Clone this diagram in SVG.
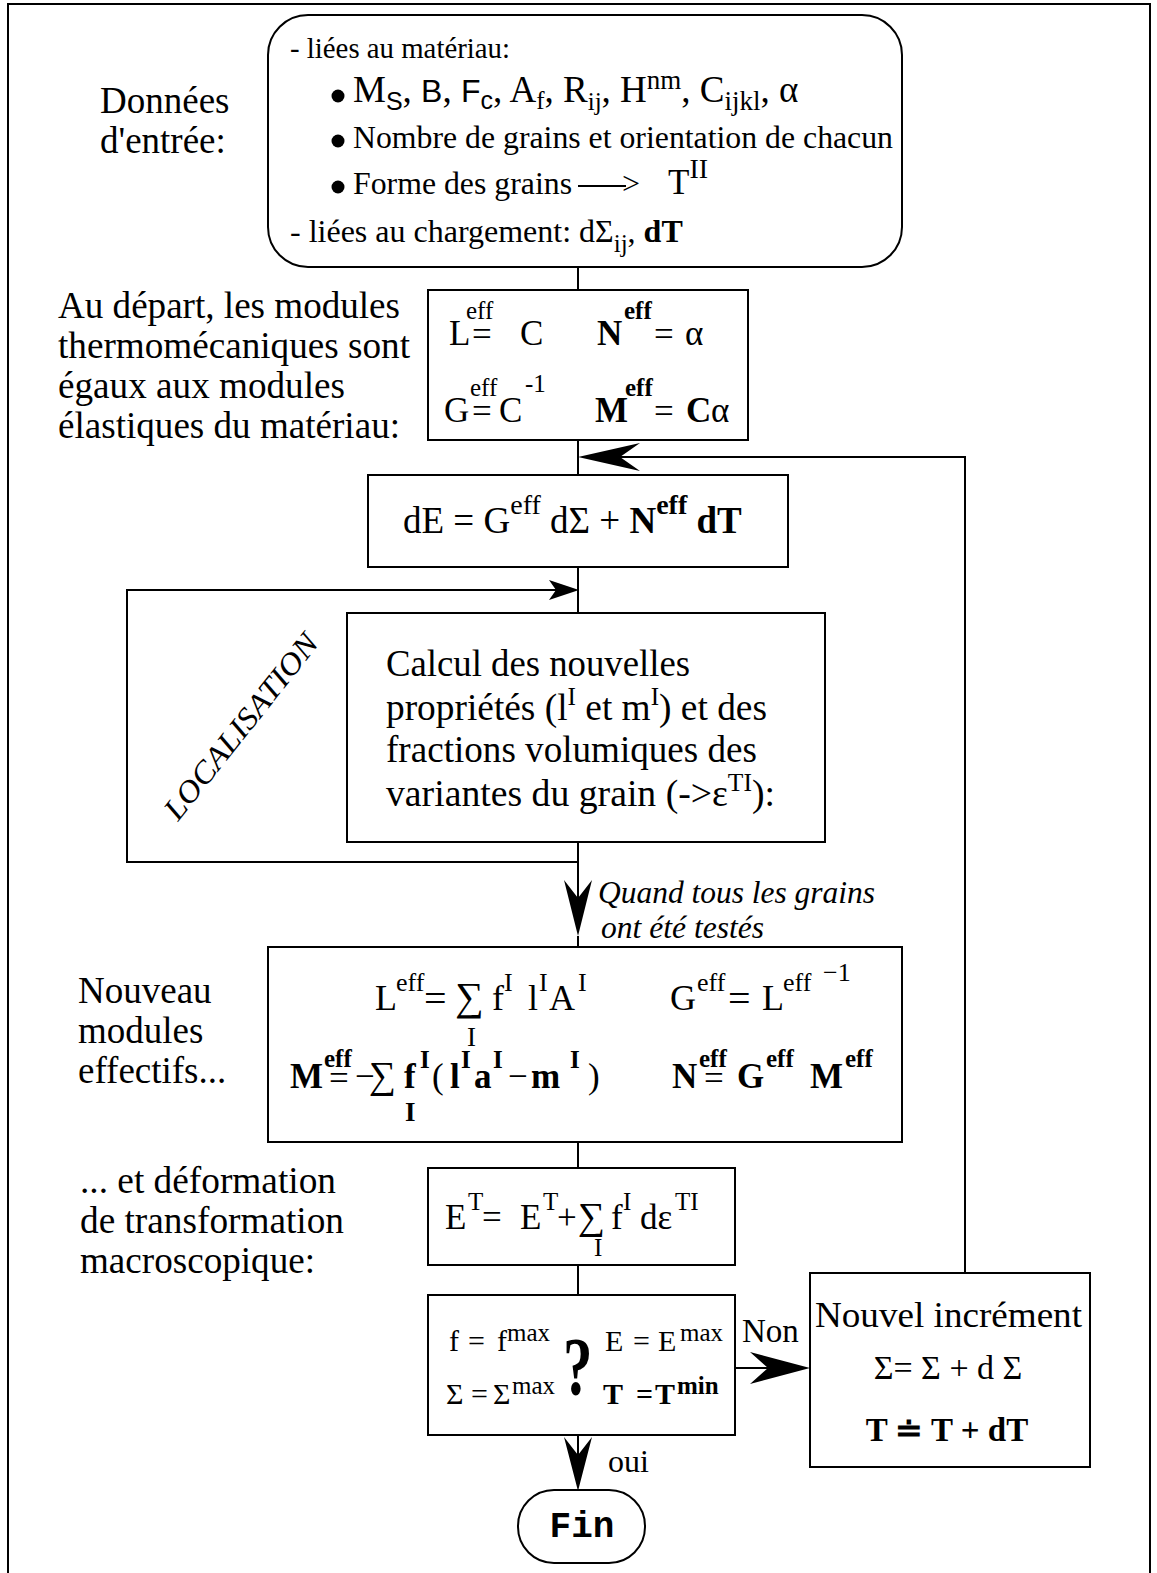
<svg xmlns="http://www.w3.org/2000/svg" width="1157" height="1573" viewBox="0 0 1157 1573">
<style>
.box{fill:#fff;stroke:#000;stroke-width:2}
.ln{fill:none;stroke:#000;stroke-width:2}
.ah{fill:#000;stroke:none}
text{font-family:"Liberation Serif","Times New Roman",serif;fill:#000}
.lbl{font-size:37px}
.sans{font-family:"Liberation Sans",Arial,sans-serif}
.mono{font-family:"Liberation Mono","Courier New",monospace;font-weight:bold}
.b{font-weight:bold}
.n{font-weight:normal}
.it{font-style:italic}
</style>
<rect width="1157" height="1573" fill="#fff"/>
<path class="ln" d="M8,1573 V4 H1150 V1573"/>

<g id="connectors">
<line class="ln" x1="578" y1="266" x2="578" y2="290"/>
<line class="ln" x1="578" y1="440" x2="578" y2="475"/>
<polyline class="ln" points="965,1273 965,457 590,457"/>
<polygon class="ah" points="578,457 640,443 620,457 640,471"/>
<line class="ln" x1="578" y1="567" x2="578" y2="613"/>
<polyline class="ln" points="578,842 578,862 127,862 127,590 570,590"/>
<polygon class="ah" points="579,590 549,580 556,590 549,600"/>
<line class="ln" x1="578" y1="862" x2="578" y2="925"/>
<polygon class="ah" points="578,936 564,880 578,898 592,880"/>
<line class="ln" x1="578" y1="936" x2="578" y2="947"/>
<line class="ln" x1="578" y1="1142" x2="578" y2="1168"/>
<line class="ln" x1="578" y1="1265" x2="578" y2="1295"/>
<line class="ln" x1="735" y1="1368" x2="800" y2="1368"/>
<polygon class="ah" points="810,1368 750,1352 768,1368 750,1384"/>
<line class="ln" x1="578" y1="1435" x2="578" y2="1480"/>
<polygon class="ah" points="578,1491 564,1437 578,1455 592,1437"/>
<text x="742" y="1342" font-size="33">Non</text>
<text x="608" y="1472" font-size="32">oui</text>
<text class="it" x="598" y="903" font-size="32" textLength="277" lengthAdjust="spacingAndGlyphs">Quand tous les grains</text>
<text class="it" x="601" y="938" font-size="32" textLength="163" lengthAdjust="spacingAndGlyphs">ont été testés</text>
<text class="it" font-size="31" transform="translate(178,822) rotate(-51.5)" textLength="228" lengthAdjust="spacingAndGlyphs">LOCALISATION</text>
</g>

<g id="labels">
<text class="lbl" x="100" y="113">Données</text>
<text class="lbl" x="100" y="153">d'entrée:</text>
<text class="lbl" x="58" y="318" textLength="342" lengthAdjust="spacingAndGlyphs">Au départ, les modules</text>
<text class="lbl" x="58" y="358" textLength="352" lengthAdjust="spacingAndGlyphs">thermomécaniques sont</text>
<text class="lbl" x="58" y="398" textLength="287" lengthAdjust="spacingAndGlyphs">égaux aux modules</text>
<text class="lbl" x="58" y="438" textLength="342" lengthAdjust="spacingAndGlyphs">élastiques du matériau:</text>
<text class="lbl" x="78" y="1003">Nouveau</text>
<text class="lbl" x="78" y="1043">modules</text>
<text class="lbl" x="78" y="1083">effectifs...</text>
<text class="lbl" x="80" y="1193" textLength="256" lengthAdjust="spacingAndGlyphs">... et déformation</text>
<text class="lbl" x="80" y="1233" textLength="264" lengthAdjust="spacingAndGlyphs">de transformation</text>
<text class="lbl" x="80" y="1273" textLength="235" lengthAdjust="spacingAndGlyphs">macroscopique:</text>
</g>

<g id="node-input">
<rect class="box" x="268" y="15" width="634" height="252" rx="40"/>
<text x="290" y="58" font-size="29" textLength="220" lengthAdjust="spacingAndGlyphs">- liées au matériau:</text>
<circle cx="338" cy="96" r="6.5"/>
<text x="353" y="102" font-size="37">M<tspan class="sans" font-size="25" dy="8">S</tspan><tspan dy="-8">, </tspan><tspan class="sans" font-size="32">B</tspan>, <tspan class="sans" font-size="32">F</tspan><tspan class="sans" font-size="25" dy="7">c</tspan><tspan dy="-7">, A</tspan><tspan font-size="25" dy="7">f</tspan><tspan dy="-7">, R</tspan><tspan font-size="25" dy="8">ij</tspan><tspan dy="-8">, H</tspan><tspan font-size="27" dy="-13">nm</tspan><tspan dy="13">, C</tspan><tspan font-size="27" dy="8">ijkl</tspan><tspan dy="-8">, α</tspan></text>
<circle cx="338" cy="141" r="6.5"/>
<text x="353" y="148" font-size="32" textLength="540" lengthAdjust="spacingAndGlyphs">Nombre de grains et orientation de chacun</text>
<circle cx="338" cy="187" r="6.5"/>
<text x="353" y="194" font-size="32" textLength="219" lengthAdjust="spacingAndGlyphs">Forme des grains</text>
<line class="ln" x1="578" y1="186" x2="626" y2="186"/>
<text x="622" y="194" font-size="32">&gt;</text>
<text x="668" y="194" font-size="35">T<tspan font-size="28" dy="-16">II</tspan></text>
<text x="290" y="242" font-size="32">- liées au chargement: dΣ<tspan font-size="25" dy="10">ij</tspan><tspan dy="-10">, </tspan><tspan class="b">dT</tspan></text>
</g>

<g id="node-init">
<rect class="box" x="428" y="290" width="320" height="150"/>
<text font-size="35"><tspan x="449" y="345">L</tspan><tspan x="466" y="319" font-size="25">eff</tspan><tspan x="472" y="346">=</tspan><tspan x="520" y="345">C</tspan></text>
<text font-size="35"><tspan class="b" x="597" y="345">N</tspan><tspan class="b" x="624" y="319" font-size="25">eff</tspan><tspan x="654" y="346">=</tspan><tspan x="685" y="345">α</tspan></text>
<text font-size="35"><tspan x="444" y="422">G</tspan><tspan x="470" y="396" font-size="25">eff</tspan><tspan x="472" y="423">=</tspan><tspan x="499" y="422">C</tspan><tspan x="525" y="392" font-size="25">-1</tspan></text>
<text font-size="35"><tspan class="b" x="595" y="422">M</tspan><tspan class="b" x="625" y="396" font-size="25">eff</tspan><tspan x="654" y="423">=</tspan><tspan class="b" x="686" y="422">C</tspan><tspan x="711" y="422">α</tspan></text>
</g>

<g id="node-dE">
<rect class="box" x="368" y="475" width="420" height="92"/>
<text x="403" y="533" font-size="37">dE = G<tspan font-size="28" dy="-19">eff</tspan><tspan dy="19"> dΣ + </tspan><tspan class="b">N</tspan><tspan class="b" font-size="28" dy="-19">eff</tspan><tspan class="b" dy="19"> dT</tspan></text>
</g>

<g id="node-calcul">
<rect class="box" x="347" y="613" width="478" height="229"/>
<text x="386" y="676" font-size="37" textLength="304" lengthAdjust="spacingAndGlyphs">Calcul des nouvelles</text>
<text x="386" y="720" font-size="37" textLength="381" lengthAdjust="spacingAndGlyphs">propriétés (l<tspan font-size="25" dy="-15">I</tspan><tspan dy="15"> et m</tspan><tspan font-size="25" dy="-15">I</tspan><tspan dy="15">) et des</tspan></text>
<text x="386" y="762" font-size="37" textLength="371" lengthAdjust="spacingAndGlyphs">fractions volumiques des</text>
<text x="386" y="806" font-size="37" textLength="389" lengthAdjust="spacingAndGlyphs">variantes du grain (-&gt;ε<tspan font-size="25" dy="-15">TI</tspan><tspan dy="15">):</tspan></text>
</g>

<g id="node-nouveau">
<rect class="box" x="268" y="947" width="634" height="195"/>
<text font-size="36"><tspan x="375" y="1010">L</tspan><tspan x="396" y="991" font-size="26">eff</tspan><tspan x="424" y="1012" font-size="40">=</tspan><tspan x="455" y="1010" font-size="40">∑</tspan><tspan x="492" y="1010">f</tspan><tspan x="504" y="991" font-size="26">I</tspan><tspan x="528" y="1010">l</tspan><tspan x="539" y="991" font-size="26">I</tspan><tspan x="549" y="1010">A</tspan><tspan x="578" y="991" font-size="26">I</tspan></text>
<text x="467" y="1046" font-size="27">I</text>
<text font-size="36"><tspan x="670" y="1010">G</tspan><tspan x="697" y="991" font-size="26">eff</tspan><tspan x="728" y="1012" font-size="40">=</tspan><tspan x="762" y="1010">L</tspan><tspan x="783" y="991" font-size="26">eff</tspan><tspan x="823" y="981" font-size="26">−1</tspan></text>
<text class="b" font-size="35"><tspan x="290" y="1088">M</tspan><tspan x="324" y="1067" font-size="25">eff</tspan><tspan class="n" x="329" y="1090">=</tspan><tspan class="n" x="355" y="1088">−</tspan><tspan class="n" x="369" y="1088" font-size="38">∑</tspan><tspan x="404" y="1088">f</tspan><tspan x="420" y="1068" font-size="25">I</tspan><tspan class="n" x="432" y="1088">(</tspan><tspan x="450" y="1088">l</tspan><tspan x="461" y="1068" font-size="25">I</tspan><tspan x="474" y="1088">a</tspan><tspan x="493" y="1068" font-size="25">I</tspan><tspan class="n" x="508" y="1088">−</tspan><tspan x="531" y="1088">m</tspan><tspan x="570" y="1068" font-size="25">I</tspan><tspan class="n" x="588" y="1088">)</tspan></text>
<text class="b" x="405" y="1121" font-size="27">I</text>
<text class="b" font-size="35"><tspan x="672" y="1088">N</tspan><tspan x="699" y="1067" font-size="25">eff</tspan><tspan class="n" x="704" y="1090">=</tspan><tspan x="737" y="1088">G</tspan><tspan x="766" y="1067" font-size="25">eff</tspan><tspan x="810" y="1088">M</tspan><tspan x="845" y="1067" font-size="25">eff</tspan></text>
</g>

<g id="node-ET">
<rect class="box" x="428" y="1168" width="307" height="97"/>
<text font-size="35"><tspan x="445" y="1229">E</tspan><tspan x="468" y="1210" font-size="25">T</tspan><tspan x="482" y="1229">=</tspan><tspan x="520" y="1229">E</tspan><tspan x="543" y="1210" font-size="25">T</tspan><tspan x="557" y="1229">+</tspan><tspan x="578" y="1229" font-size="38">∑</tspan><tspan x="611" y="1229">f</tspan><tspan x="623" y="1210" font-size="25">I</tspan><tspan x="640" y="1229">dε</tspan><tspan x="675" y="1210" font-size="25">TI</tspan></text>
<text x="594" y="1256" font-size="25">I</text>
</g>

<g id="node-test">
<rect class="box" x="428" y="1295" width="307" height="140"/>
<text font-size="30"><tspan x="449" y="1351">f</tspan><tspan x="468" y="1351">=</tspan><tspan x="497" y="1351">f</tspan><tspan x="507" y="1341" font-size="25">max</tspan></text>
<text font-size="30"><tspan x="446" y="1404">Σ</tspan><tspan x="471" y="1404">=</tspan><tspan x="493" y="1404">Σ</tspan><tspan x="512" y="1394" font-size="25">max</tspan></text>
<text class="b" font-size="82" transform="translate(563,1394) scale(0.72,1)">?</text>
<text font-size="30"><tspan x="605" y="1351">E</tspan><tspan x="633" y="1351">=</tspan><tspan x="658" y="1351">E</tspan><tspan x="680" y="1341" font-size="25">max</tspan></text>
<text class="b" font-size="30"><tspan x="603" y="1404">T</tspan><tspan x="636" y="1404">=</tspan><tspan x="655" y="1404">T</tspan><tspan x="677" y="1394" font-size="25">min</tspan></text>
</g>

<g id="node-increment">
<rect class="box" x="810" y="1273" width="280" height="194"/>
<text x="815" y="1327" font-size="36" textLength="267" lengthAdjust="spacingAndGlyphs">Nouvel incrément</text>
<text x="948" y="1379" font-size="34" text-anchor="middle">Σ= Σ +  d Σ</text>
<text class="b" x="947" y="1441" font-size="33" text-anchor="middle">T ≐ T + dT</text>
</g>

<g id="node-fin">
<rect class="box" x="518" y="1490" width="127" height="73" rx="36"/>
<text class="mono" x="582" y="1537" font-size="36" text-anchor="middle">Fin</text>
</g>
</svg>
